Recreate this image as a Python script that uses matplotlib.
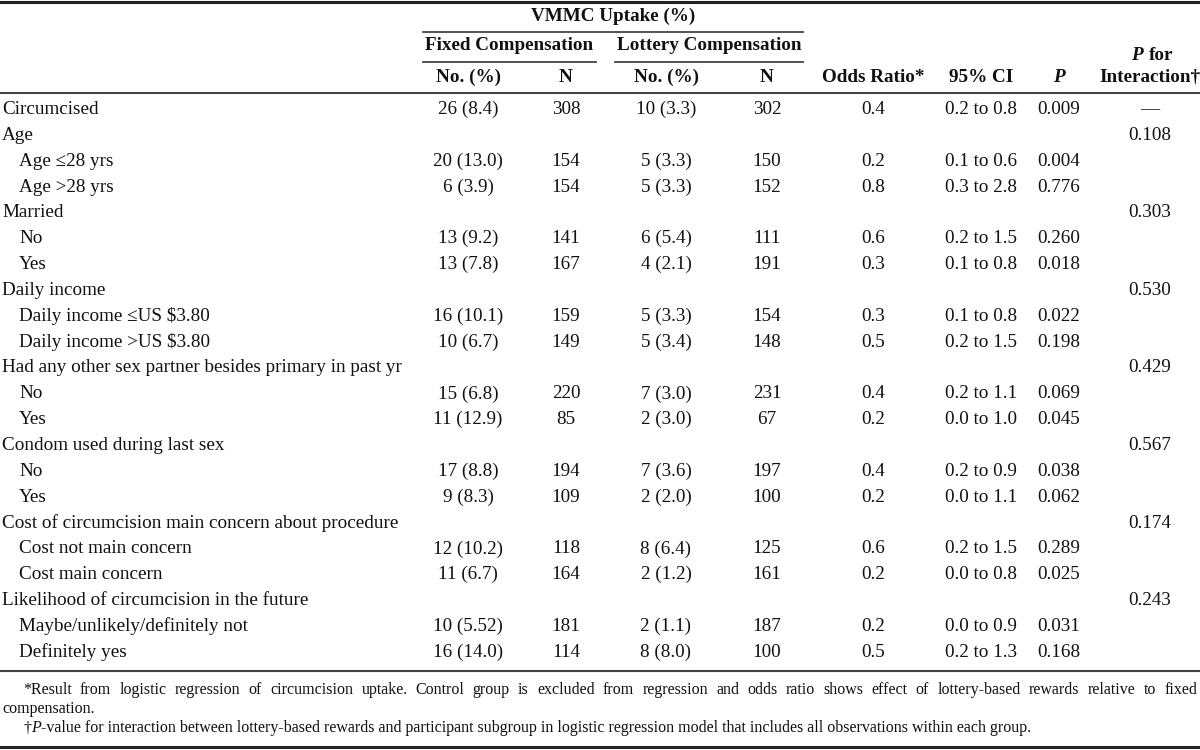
import matplotlib
matplotlib.use("Agg")
import matplotlib.pyplot as plt

plt.rcParams['font.family'] = ['Liberation Serif', 'DejaVu Serif']

# row labels, indent level
labels = ["Circumcised", "Age", "Age \u226428 yrs", "Age >28 yrs", "Married", "No", "Yes",
          "Daily income", "Daily income \u2264US $3.80", "Daily income >US $3.80",
          "Had any other sex partner besides primary in past yr", "No", "Yes",
          "Condom used during last sex", "No", "Yes",
          "Cost of circumcision main concern about procedure",
          "Cost not main concern", "Cost main concern",
          "Likelihood of circumcision in the future",
          "Maybe/unlikely/definitely not", "Definitely yes"]
indent = [0, 0, 1, 1, 0, 1, 1, 0, 1, 1, 0, 1, 1, 0, 1, 1, 0, 1, 1, 0, 1, 1]

fixed_pct = ["26 (8.4)", "", "20 (13.0)", "6 (3.9)", "", "13 (9.2)", "13 (7.8)",
             "", "16 (10.1)", "10 (6.7)", "", "15 (6.8)", "11 (12.9)",
             "", "17 (8.8)", "9 (8.3)", "", "12 (10.2)", "11 (6.7)",
             "", "10 (5.52)", "16 (14.0)"]
fixed_n = ["308", "", "154", "154", "", "141", "167", "", "159", "149", "", "220", "85",
           "", "194", "109", "", "118", "164", "", "181", "114"]
lottery_pct = ["10 (3.3)", "", "5 (3.3)", "5 (3.3)", "", "6 (5.4)", "4 (2.1)",
               "", "5 (3.3)", "5 (3.4)", "", "7 (3.0)", "2 (3.0)",
               "", "7 (3.6)", "2 (2.0)", "", "8 (6.4)", "2 (1.2)",
               "", "2 (1.1)", "8 (8.0)"]
lottery_n = ["302", "", "150", "152", "", "111", "191", "", "154", "148", "", "231", "67",
             "", "197", "100", "", "125", "161", "", "187", "100"]
odds_ratio = ["0.4", "", "0.2", "0.8", "", "0.6", "0.3", "", "0.3", "0.5", "", "0.4", "0.2",
              "", "0.4", "0.2", "", "0.6", "0.2", "", "0.2", "0.5"]
ci95 = ["0.2 to 0.8", "", "0.1 to 0.6", "0.3 to 2.8", "", "0.2 to 1.5", "0.1 to 0.8",
        "", "0.1 to 0.8", "0.2 to 1.5", "", "0.2 to 1.1", "0.0 to 1.0",
        "", "0.2 to 0.9", "0.0 to 1.1", "", "0.2 to 1.5", "0.0 to 0.8",
        "", "0.0 to 0.9", "0.2 to 1.3"]
p_val = ["0.009", "", "0.004", "0.776", "", "0.260", "0.018", "", "0.022", "0.198", "",
         "0.069", "0.045", "", "0.038", "0.062", "", "0.289", "0.025", "", "0.031", "0.168"]
p_inter = ["\u2014", "0.108", "", "", "0.303", "", "", "0.530", "", "", "0.429", "", "",
           "0.567", "", "", "0.174", "", "", "0.243", "", ""]

note1 = ("*Result from logistic regression of circumcision uptake. Control group is excluded "
         "from regression and odds ratio shows effect of lottery-based rewards relative to fixed")
note1b = "compensation."
note2 = ("-value for interaction between lottery-based rewards and participant subgroup in "
         "logistic regression model that includes all observations within each group.")

W, H = 1200, 750
fig = plt.figure(figsize=(12, 7.5), dpi=100)
ax = fig.add_axes([0, 0, 1, 1])
ax.set_xlim(0, W)
ax.set_ylim(H, 0)
ax.axis("off")

fs = 13.8
ink = "#111111"
col_x = [468, 566, 666, 767, 873, 981, 1059]
pint_x = 1150

# rules
ax.plot([0, W], [2, 2], color="#222222", lw=2.2)
ax.plot([423, 803], [32, 32], color="#444444", lw=1.3)
ax.plot([423, 596], [62, 62], color="#444444", lw=1.3)
ax.plot([615, 803], [62, 62], color="#444444", lw=1.3)
ax.plot([0, W], [93, 93], color="#444444", lw=1.5)
ax.plot([0, W], [671, 671], color="#444444", lw=1.5)
ax.plot([0, W], [747, 747], color="#222222", lw=2.2)

# header
hd = dict(fontsize=fs, fontweight="bold", ha="center", va="center", color=ink)
ax.text(613, 16, "VMMC Uptake (%)", **hd)
ax.text(509, 46, "Fixed Compensation", **hd)
ax.text(709, 46, "Lottery Compensation", **hd)
heads = ["No. (%)", "N", "No. (%)", "N", "Odds Ratio*", "95% CI"]
for x, h in zip(col_x, heads):
    ax.text(x, 77, h, **hd)
ax.text(col_x[6], 77, "P", style="italic", **hd)
ax.text(1143, 56, "P", fontsize=fs, fontweight="bold", style="italic", ha="right", va="center", color=ink)
ax.text(1149, 56, "for", fontsize=fs, fontweight="bold", ha="left", va="center", color=ink)
ax.text(1150, 77, "Interaction\u2020", **hd)

# body
y0, dy = 109.5, 25.85
for i, lab in enumerate(labels):
    y = y0 + i * dy
    ax.text(2 + 17 * indent[i], y, lab, fontsize=fs, ha="left", va="center", color=ink)
    vals = [fixed_pct[i], fixed_n[i], lottery_pct[i], lottery_n[i], odds_ratio[i], ci95[i], p_val[i]]
    for x, v in zip(col_x, vals):
        ax.text(x, y, v, fontsize=fs, ha="center", va="center", color=ink)
    ax.text(pint_x, y, p_inter[i], fontsize=fs, ha="center", va="center", color=ink)

# footnotes (first line justified)
fn = 11.5
r = fig.canvas.get_renderer()
words = note1.split(" ")
arts = [ax.text(0, 690, w, fontsize=fn, ha="left", va="center", color=ink) for w in words]
widths = [a.get_window_extent(r).width for a in arts]
x_start, x_end = 23, 1197
gap = (x_end - x_start - sum(widths)) / (len(words) - 1)
x = x_start
for a, w in zip(arts, widths):
    a.set_x(x)
    x += w + gap
ax.text(2, 709, note1b, fontsize=fn, ha="left", va="center", color=ink)
t1 = ax.text(23, 728, "\u2020", fontsize=fn, ha="left", va="center", color=ink)
w1 = t1.get_window_extent(r).width
t2 = ax.text(23 + w1, 728, "P", fontsize=fn, style="italic", ha="left", va="center", color=ink)
w2 = t2.get_window_extent(r).width
ax.text(23 + w1 + w2, 728, note2, fontsize=fn, ha="left", va="center", color=ink)

fig.savefig("out.png", dpi=100)
